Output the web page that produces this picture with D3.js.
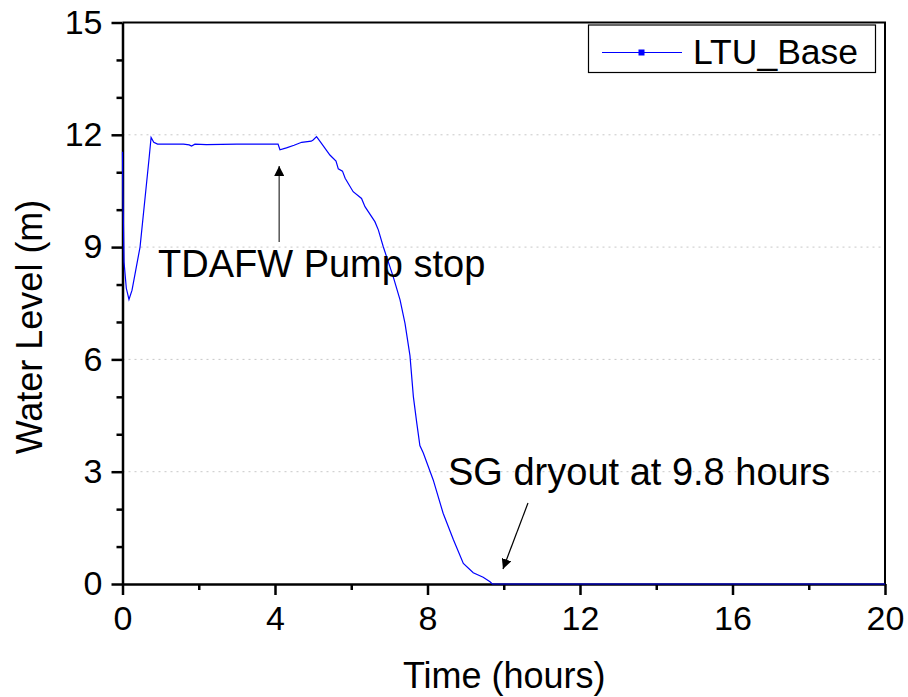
<!DOCTYPE html>
<html>
<head>
<meta charset="utf-8">
<script src="https://cdn.jsdelivr.net/npm/d3@7"></script>
<style>
  body { margin: 0; background: #fff; }
  svg { font-family: "Liberation Sans", Arial, sans-serif; }
</style>
</head>
<body>
<svg id="chart" width="908" height="697"></svg>
<script>
// water level in the SG
const timeHours = [0, 0.01, 0.04, 0.1, 0.17, 0.25, 0.35, 0.46, 0.6, 0.7, 0.75, 0.82, 0.92, 1.2, 1.6, 1.75, 1.81, 1.9, 2.2, 3.0, 4.0, 4.08, 4.13, 4.3, 4.5, 4.7, 4.95, 5.0, 5.09, 5.2, 5.44, 5.6, 5.66, 5.77, 5.84, 6.05, 6.27, 6.36, 6.62, 6.71, 6.84, 7.10, 7.28, 7.41, 7.54, 7.63, 7.72, 7.80, 7.89, 8.15, 8.41, 8.68, 8.94, 9.20, 9.46, 9.64, 9.70, 20]
const waterLevel = [11.55, 10.5, 8.6, 7.9, 7.6, 7.85, 8.4, 9.0, 10.4, 11.4, 11.93, 11.8, 11.75, 11.75, 11.75, 11.73, 11.70, 11.75, 11.74, 11.75, 11.75, 11.75, 11.6, 11.65, 11.72, 11.8, 11.83, 11.86, 11.95, 11.8, 11.46, 11.3, 11.09, 11.03, 10.84, 10.48, 10.3, 10.08, 9.68, 9.46, 9.01, 8.21, 7.59, 6.96, 6.1, 5.0, 4.29, 3.7, 3.5, 2.78, 1.89, 1.18, 0.55, 0.3, 0.18, 0.06, 0, 0]

const xTicks = [0, 4, 8, 12, 16, 20]
const xMinor = [2, 6, 10, 14, 18]
const yTicks = [0, 3, 6, 9, 12, 15]
const yMinor = [1, 2, 4, 5, 7, 8, 10, 11, 13, 14]
const seriesName = "LTU_Base"

const data = timeHours.map((t, i) => ({ t: t, v: waterLevel[i] }))

const svg = d3.select("#chart")
const pLeft = 122.5, pRight = 885, pTop = 22.5, pBottom = 584

const x = d3.scaleLinear().domain([0, 20]).range([pLeft, pRight])
const y = d3.scaleLinear().domain([0, 15]).range([pBottom, pTop])

// dotted grid at major y ticks
svg.append("g").selectAll("line").data(yTicks.filter(d => d > 0 && d < 15)).join("line")
    .attr("x1", pLeft).attr("x2", pRight)
    .attr("y1", d => y(d)).attr("y2", d => y(d))
    .attr("stroke", "#c8c8c8").attr("stroke-width", 1).attr("stroke-dasharray", "2,4")

// frame top / right
svg.append("path")
    .attr("d", `M${pLeft},${pTop}H${pRight}V${pBottom}`)
    .attr("fill", "none").attr("stroke", "#000").attr("stroke-width", 2)

// x axis
const xAxis = svg.append("g").attr("transform", `translate(0,${pBottom})`)
    .call(d3.axisBottom(x).tickValues(xTicks).tickSize(11).tickPadding(11).tickSizeOuter(0))
xAxis.select(".domain").attr("stroke-width", 2.5)
xAxis.selectAll(".tick line").attr("stroke-width", 2.5)
xAxis.selectAll("text").attr("font-size", 34).attr("fill", "#000")
svg.append("g").attr("transform", `translate(0,${pBottom})`)
    .call(d3.axisBottom(x).tickValues(xMinor).tickSize(6).tickFormat("").tickSizeOuter(0))
    .call(g => g.select(".domain").remove())
    .selectAll("line").attr("stroke-width", 2.5)

// y axis
const yAxis = svg.append("g").attr("transform", `translate(${pLeft},0)`)
    .call(d3.axisLeft(y).tickValues(yTicks).tickSize(11).tickPadding(9).tickSizeOuter(0))
yAxis.select(".domain").attr("stroke-width", 2.5)
yAxis.selectAll(".tick line").attr("stroke-width", 2.5)
yAxis.selectAll("text").attr("font-size", 34).attr("fill", "#000")
svg.append("g").attr("transform", `translate(${pLeft},0)`)
    .call(d3.axisLeft(y).tickValues(yMinor).tickSize(6).tickFormat("").tickSizeOuter(0))
    .call(g => g.select(".domain").remove())
    .selectAll("line").attr("stroke-width", 2.5)

// axis titles
svg.append("text").attr("x", (pLeft + pRight) / 2 + 0.5).attr("y", 688)
    .attr("text-anchor", "middle").attr("font-size", 36).text("Time (hours)")
svg.append("text").attr("transform", "translate(42,327) rotate(-90)")
    .attr("text-anchor", "middle").attr("font-size", 36).text("Water Level (m)")

// the series
const line = d3.line().x(d => x(d.t)).y(d => y(d.v))
svg.append("path").datum(data)
    .attr("d", line)
    .attr("fill", "none").attr("stroke", "#0000ff").attr("stroke-width", 1.2)

// arrow heads
const defs = svg.append("defs")
defs.append("marker").attr("id", "head")
    .attr("viewBox", "0 0 10 10").attr("refX", 10).attr("refY", 5)
    .attr("markerWidth", 10).attr("markerHeight", 10)
    .attr("markerUnits", "userSpaceOnUse").attr("orient", "auto")
    .append("path").attr("d", "M0,0L10,5L0,10Z").attr("fill", "#000")

// annotations
svg.append("line").attr("x1", x(4.11)).attr("x2", x(4.11)).attr("y1", 242).attr("y2", 166)
    .attr("stroke", "#555").attr("stroke-width", 1.5).attr("marker-end", "url(#head)")
svg.append("text").attr("x", 158).attr("y", 277).attr("font-size", 38).text("TDAFW Pump stop")

svg.append("line").attr("x1", 528).attr("y1", 503).attr("x2", x(9.98)).attr("y2", 569)
    .attr("stroke", "#000").attr("stroke-width", 1.2).attr("marker-end", "url(#head)")
svg.append("text").attr("x", 448).attr("y", 485).attr("font-size", 38).text("SG dryout at 9.8 hours")

// legend
const lg = svg.append("g")
lg.append("rect").attr("x", 588.5).attr("y", 25).attr("width", 287).attr("height", 47.5)
    .attr("fill", "#fff").attr("stroke", "#000").attr("stroke-width", 1.2)
lg.append("line").attr("x1", 602).attr("x2", 682).attr("y1", 52.5).attr("y2", 52.5)
    .attr("stroke", "#0000ff").attr("stroke-width", 1.2)
lg.append("rect").attr("x", 638.5).attr("y", 49.5).attr("width", 6).attr("height", 6).attr("fill", "#0000ff")
lg.append("text").attr("x", 693).attr("y", 64).attr("font-size", 35.5).text(seriesName)
</script>
</body>
</html>
